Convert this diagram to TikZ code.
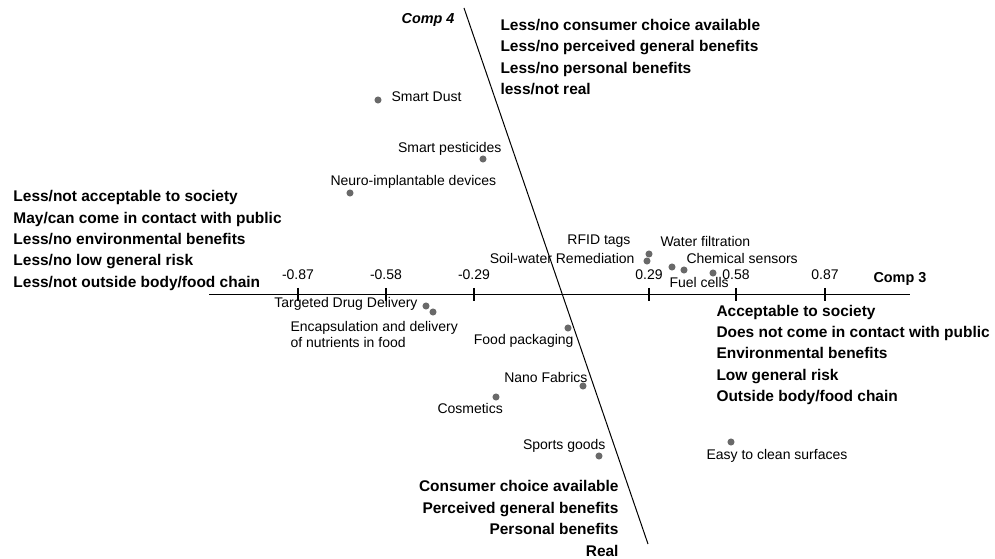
\documentclass[tikz,border=0pt]{standalone}
\usepackage{fontspec}
\setmainfont{Liberation Sans}

\tikzset{every picture/.style={line width=0.75pt}}
\tikzset{
  dotpt/.style={circle, fill={rgb, 255:red, 105; green, 105; blue, 105 }, inner sep=0pt, minimum size=5.3pt},
  lbl/.style={font=\fontsize{10.5}{12}\selectfont, inner sep=0pt},
  bigtxt/.style={font=\bfseries\fontsize{11.6}{16.1}\selectfont, inner sep=0pt},
}

\begin{document}
\begin{tikzpicture}[x=0.75pt,y=0.75pt,yscale=-1,xscale=1]
	\path (0,0) rectangle (995,559); %set diagram size

	%Straight Lines: Comp 3 axis
	\coordinate (c3l) at (209,295);
	\coordinate (c3r) at (910,295);
	\draw (c3l) -- (c3r);
	%ticks and values
	\foreach \x/\v [count=\i] in {298/-0.87,386/-0.58,474/-0.29,649/0.29,736/0.58,825/0.87}{
		\draw [line width=1.2] (\x,288) -- (\x,301);
		\node [lbl] (tk\i) at (\x,275) {\v};
	}
	%Straight Lines: Comp 4 axis
	\coordinate (c4t) at (464,8);
	\coordinate (c4b) at (648,544);
	\draw (c4t) -- (c4b);

	% Text Node
	\node [bigtxt, font=\bfseries\fontsize{10.8}{13}\selectfont, anchor=west] (comp3) at (873,279) {Comp 3};
	% Text Node
	\node [bigtxt, font=\bfseries\itshape\fontsize{10.8}{13}\selectfont, anchor=east] (comp4) at (455,20) {Comp 4};

	%Shape: points
	\node [dotpt] (sdust) at (378,100) {};
	\node [dotpt] (spest) at (483,159) {};
	\node [dotpt] (neuro) at (350,193) {};
	\node [dotpt] (rfid) at (649,254) {};
	\node [dotpt] (soil) at (647,261) {};
	\node [dotpt] (water) at (672,267) {};
	\node [dotpt] (fuel) at (684,270) {};
	\node [dotpt] (chem) at (713,273) {};
	\node [dotpt] (drug) at (426,306) {};
	\node [dotpt] (encap) at (433,312) {};
	\node [dotpt] (food) at (568,328) {};
	\node [dotpt] (nano) at (583,386) {};
	\node [dotpt] (cosm) at (496,397) {};
	\node [dotpt] (sport) at (599,456) {};
	\node [dotpt] (clean) at (731,442) {};

	% Text Node
	\node [lbl, anchor=west] (sdustl) at (391,97) {Smart Dust};
	% Text Node
	\node [lbl, anchor=east] (spestl) at (502,149) {Smart pesticides};
	% Text Node
	\node [lbl, anchor=west] (neurol) at (330,182) {Neuro-implantable devices};
	% Text Node
	\node [lbl, anchor=east] (rfidl) at (631,241) {RFID tags};
	% Text Node
	\node [lbl, anchor=east] (soill) at (635,258) {Soil-water Remediation};
	% Text Node
	\node [lbl, anchor=west] (waterl) at (660,241) {Water filtration};
	% Text Node
	\node [lbl, anchor=west] (cheml) at (686,258) {Chemical sensors};
	% Text Node
	\node [lbl, anchor=west] (fuell) at (669,282) {Fuel cells};
	% Text Node
	\node [lbl, anchor=east] (drugl) at (418,304) {Targeted Drug Delivery};
	% Text Node
	\node [lbl, anchor=west, align=left, font=\fontsize{10.5}{12}\selectfont] (encapl) at (290,334) {Encapsulation and delivery\\of nutrients in food};
	% Text Node
	\node [lbl, anchor=east] (foodl) at (574,341) {Food packaging};
	% Text Node
	\node [lbl, anchor=east] (nanol) at (588,377) {Nano Fabrics};
	% Text Node
	\node [lbl, anchor=west] (cosml) at (437,408) {Cosmetics};
	% Text Node
	\node [lbl, anchor=east] (sportl) at (606,446) {Sports goods};
	% Text Node
	\node [lbl, anchor=west] (cleanl) at (706,456) {Easy to clean surfaces};

	% Text Node
	\node [bigtxt, anchor=west, align=left] (toptxt) at (500,57) {Less/no consumer choice available\\Less/no perceived general benefits\\Less/no personal benefits\\less/not real};
	% Text Node
	\node [bigtxt, anchor=west, align=left] (lefttxt) at (13,240.5) {Less/not acceptable to society\\May/can come in contact with public\\Less/no environmental benefits\\Less/no low general risk\\Less/not outside body/food chain};
	% Text Node
	\node [bigtxt, anchor=west, align=left] (righttxt) at (716,355) {Acceptable to society\\Does not come in contact with public\\Environmental benefits\\Low general risk\\Outside body/food chain};
	% Text Node
	\node [bigtxt, anchor=east, align=right] (bottxt) at (619,518.5) {Consumer choice available\\Perceived general benefits\\Personal benefits\\Real};

\end{tikzpicture}
\end{document}
